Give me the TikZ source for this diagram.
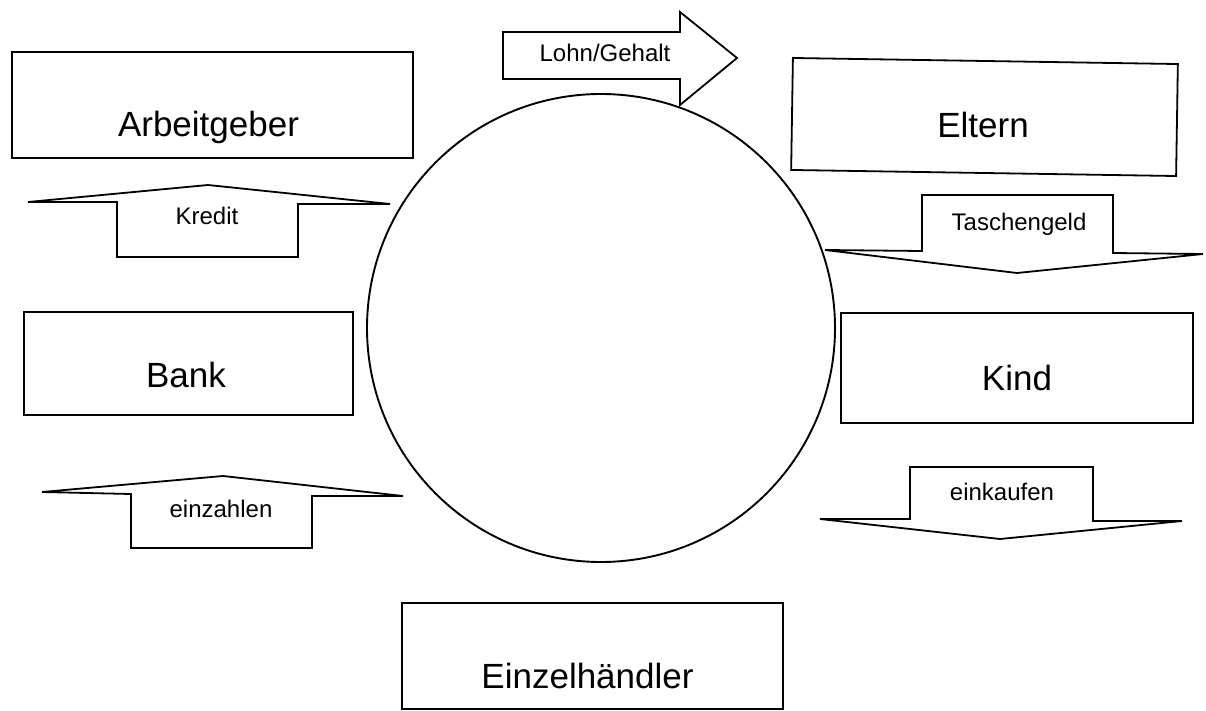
\documentclass[tikz,border=0pt]{standalone}
\usepackage{fontspec}
\setmainfont{Liberation Sans}
\tikzset{
  boxframe/.style={draw=black, line width=1.8pt, fill=white, rectangle, inner sep=0pt},
  boxtext/.style={anchor=base, inner sep=0pt, font=\fontsize{35}{40}\selectfont},
  arrtext/.style={anchor=base, inner sep=0pt, font=\fontsize{24}{28}\selectfont},
  blockarrow/.style={draw=black, line width=1.8pt, fill=white, line join=miter},
  ring/.style={draw=black, line width=1.9pt, circle, inner sep=0pt}
}
\begin{document}
\begin{tikzpicture}[x=1pt,y=-1pt]
\useasboundingbox (0,0) rectangle (1206,711);
% circle
\node[ring, minimum size=468pt] (kreis) at (601,328) {};
% boxes
\node[boxframe, minimum width=401pt, minimum height=106pt] (arb) at (212.5,105) {};
\node[boxtext] (arbt) at (208.5,137) {Arbeitgeber};
\node[boxframe, minimum width=385pt, minimum height=112pt, rotate=-0.9] (elt) at (984.5,117) {};
\node[boxtext] (eltt) at (983,138) {Eltern};
\node[boxframe, minimum width=329pt, minimum height=103pt] (bank) at (188.5,363.5) {};
\node[boxtext] (bankt) at (186,387) {Bank};
\node[boxframe, minimum width=352pt, minimum height=110pt] (kind) at (1017,368) {};
\node[boxtext] (kindt) at (1017,390) {Kind};
\node[boxframe, minimum width=381pt, minimum height=106pt] (einz) at (592.5,656) {};
\node[boxtext] (einzt) at (587.5,688) {Einzelhändler};
% block arrows
\draw[blockarrow] (503,32) -- (680,32) -- (680,12) -- (737,58) -- (680,105) -- (680,79) -- (503,79) -- cycle;
\node[arrtext] (lohn) at (605,62) {Lohn/Gehalt};
\draw[blockarrow] (28,202) -- (208,185) -- (390,204) -- (298,204) -- (298,257) -- (117,257) -- (117,202) -- cycle;
\node[arrtext] (kredit) at (207,225) {Kredit};
\draw[blockarrow] (825,250) -- (922,251) -- (922,195) -- (1113,195) -- (1113,253) -- (1203,254) -- (1017,273) -- cycle;
\node[arrtext] (tasch) at (1019,230) {Taschengeld};
\draw[blockarrow] (820,519) -- (910,519) -- (910,467) -- (1093,467) -- (1093,521) -- (1182,521) -- (1000,539) -- cycle;
\node[arrtext] (einkauf) at (1002,500) {einkaufen};
\draw[blockarrow] (42,492) -- (223,476) -- (403,496) -- (312,496) -- (312,548) -- (131,548) -- (131,494) -- cycle;
\node[arrtext] (einzahl) at (221,517) {einzahlen};
\end{tikzpicture}
\end{document}
